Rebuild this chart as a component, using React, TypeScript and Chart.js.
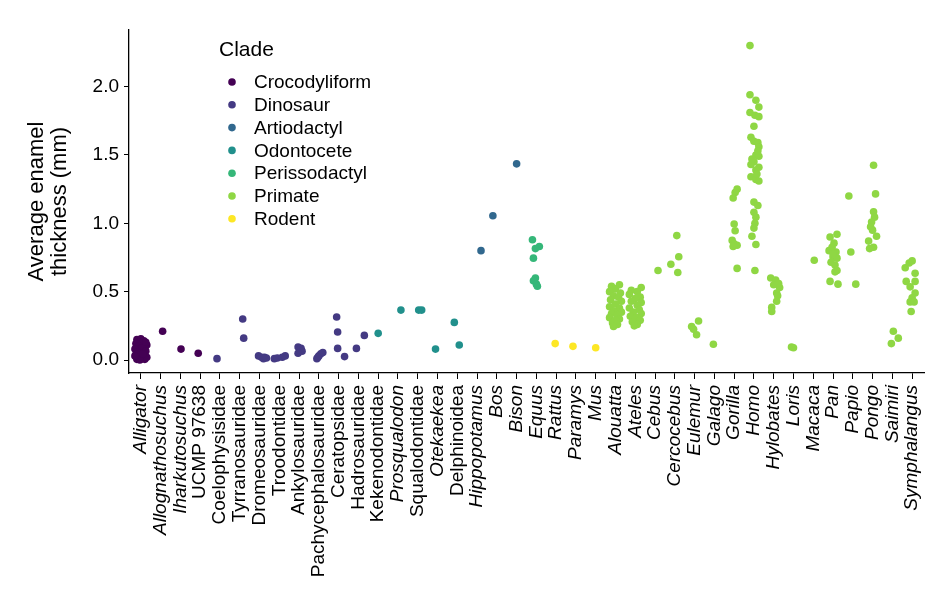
import React, { useEffect, useRef } from "react";
import { Chart, registerables } from "chart.js";

Chart.register(...registerables);

const FONT = '"Liberation Sans", Arial, Helvetica, sans-serif';

const categories = [
  "Alligator", "Allognathosuchus", "Iharkutosuchus", "UCMP 97638", "Coelophysisidae",
  "Tyrranosauridae", "Dromeosauridae", "Troodontidae", "Ankylosauridae", "Pachycephalosauridae",
  "Ceratopsidae", "Hadrosauridae", "Kekenodontidae", "Prosqualodon", "Squalodontidae",
  "Otekaekea", "Delphinoidea", "Hippopotamus", "Bos", "Bison",
  "Equus", "Rattus", "Paramys", "Mus", "Alouatta",
  "Ateles", "Cebus", "Cercocebus", "Eulemur", "Galago",
  "Gorilla", "Homo", "Hylobates", "Loris", "Macaca",
  "Pan", "Papio", "Pongo", "Saimiri", "Symphalangus",
];

const uprightTaxa = [
  "UCMP 97638", "Coelophysisidae", "Tyrranosauridae", "Dromeosauridae", "Troodontidae",
  "Ankylosauridae", "Pachycephalosauridae", "Ceratopsidae", "Hadrosauridae", "Kekenodontidae",
  "Squalodontidae", "Delphinoidea",
];

const clades = ["Crocodyliform", "Dinosaur", "Artiodactyl", "Odontocete", "Perissodactyl", "Primate", "Rodent"];
const cladeColors = ["#440154", "#443A83", "#31688E", "#21908C", "#35B779", "#8FD744", "#FDE725"];

// clade index for each taxon (same order as categories)
const taxonClade = [
  0, 0, 0, 0, 1,
  1, 1, 1, 1, 1,
  1, 1, 3, 3, 3,
  3, 3, 2, 2, 2,
  4, 6, 6, 6, 5,
  5, 5, 5, 5, 5,
  5, 5, 5, 5, 5,
  5, 5, 5, 5, 5,
];

// [jitter offset (category units), enamel thickness (mm)]
const alligator = [
  [-0.2, 0.15], [0.0, 0.155], [0.15, 0.14], [-0.25, 0.12], [0.1, 0.125], [0.3, 0.11], [-0.1, 0.1],
  [0.2, 0.09], [-0.3, 0.08], [0.05, 0.085], [-0.15, 0.06], [0.25, 0.065], [0.0, 0.05], [-0.25, 0.04],
  [0.15, 0.03], [-0.1, 0.02], [0.3, 0.02], [0.05, 0.01], [-0.2, 0.005], [0.2, 0.005], [-0.05, 0.0],
  [0.1, 0.045], [-0.3, 0.03], [0.25, 0.13],
];
const allognathosuchus = [[0.1, 0.21]];
const iharkutosuchus = [[0.03, 0.08]];
const ucmp97638 = [[-0.1, 0.05]];
const coelophysisidae = [[-0.15, 0.01]];
const tyrranosauridae = [[0.15, 0.30], [0.2, 0.16]];
const dromeosauridae = [[-0.05, 0.03], [0.1, 0.02], [0.25, 0.02], [0.35, 0.015], [0.2, 0.01]];
const troodontidae = [[-0.25, 0.01], [-0.1, 0.015], [0.15, 0.02], [0.3, 0.03]];
const ankylosauridae = [[-0.05, 0.095], [0.1, 0.085], [0.15, 0.065], [-0.05, 0.05]];
const pachycephalosauridae = [[-0.1, 0.01], [0.0, 0.03], [0.1, 0.045], [0.2, 0.055], [-0.05, 0.02]];
const ceratopsidae = [[-0.1, 0.315], [-0.05, 0.205], [-0.05, 0.085], [0.3, 0.025]];
const hadrosauridae = [[-0.1, 0.085], [0.3, 0.18]];
const kekenodontidae = [[0.0, 0.195]];
const prosqualodon = [[0.15, 0.365]];
const squalodontidae = [[0.05, 0.365], [0.2, 0.365]];
const otekaekea = [[-0.1, 0.08]];
const delphinoidea = [[-0.15, 0.275], [0.1, 0.11]];
const hippopotamus = [[0.2, 0.80]];
const bos = [[-0.2, 1.055]];
const bison = [[0.0, 1.435]];
const equus = [[-0.2, 0.88], [0.15, 0.83], [-0.05, 0.815], [-0.15, 0.745], [-0.05, 0.60], [-0.15, 0.58], [0.0, 0.555], [0.05, 0.54]];
const rattus = [[-0.05, 0.12]];
const paramys = [[-0.15, 0.10]];
const mus = [[0.0, 0.09]];
const alouatta = [
  [-0.2, 0.54], [0.2, 0.55], [0.0, 0.52], [-0.3, 0.50], [0.25, 0.49], [-0.1, 0.47], [0.15, 0.46],
  [-0.25, 0.44], [0.3, 0.43], [0.0, 0.41], [-0.3, 0.39], [0.2, 0.38], [-0.1, 0.36], [0.3, 0.35],
  [-0.2, 0.34], [0.1, 0.33], [-0.3, 0.31], [0.2, 0.30], [0.0, 0.29], [-0.15, 0.27], [0.1, 0.26], [-0.1, 0.245],
];
const ateles = [
  [0.3, 0.53], [-0.2, 0.51], [0.1, 0.50], [-0.3, 0.48], [0.25, 0.46], [0.0, 0.45], [-0.2, 0.43],
  [0.3, 0.42], [0.1, 0.40], [-0.3, 0.38], [0.2, 0.37], [-0.1, 0.35], [0.3, 0.34], [-0.25, 0.32],
  [0.05, 0.31], [0.25, 0.29], [-0.15, 0.28], [0.1, 0.26], [-0.05, 0.25],
];
const cebus = [[0.15, 0.655]];
const cercocebus = [[-0.2, 0.70], [0.1, 0.91], [0.2, 0.755], [0.15, 0.64]];
const eulemur = [[-0.15, 0.245], [0.2, 0.285], [0.1, 0.185], [-0.05, 0.225]];
const galago = [[-0.05, 0.115]];
const gorilla = [
  [0.15, 1.25], [0.05, 1.225], [-0.05, 1.185], [0.0, 0.995], [0.05, 0.945], [-0.1, 0.875],
  [0.0, 0.85], [0.15, 0.84], [-0.05, 0.83], [0.15, 0.67],
];
const homo = [
  [-0.2, 2.30], [-0.2, 1.94], [0.1, 1.90], [0.25, 1.85], [-0.2, 1.81], [0.05, 1.79], [0.25, 1.78],
  [0.0, 1.71], [-0.15, 1.63], [0.0, 1.60], [0.2, 1.59], [0.25, 1.56], [0.1, 1.50], [0.25, 1.49],
  [0.0, 1.45], [-0.15, 1.43], [0.25, 1.41], [0.1, 1.39], [-0.15, 1.34], [0.1, 1.32], [0.25, 1.31],
  [0.15, 1.36], [-0.1, 1.47], [0.2, 1.53], [0.0, 1.155], [0.2, 1.13], [0.0, 1.08], [0.1, 1.045],
  [0.05, 1.0], [0.0, 0.965], [-0.1, 0.905], [0.1, 0.845], [0.05, 0.655],
];
const hylobates = [
  [-0.15, 0.60], [0.1, 0.585], [0.25, 0.56], [0.0, 0.55], [0.3, 0.53], [0.15, 0.49],
  [0.2, 0.47], [0.15, 0.43], [-0.1, 0.385], [-0.1, 0.355],
];
const loris = [[-0.1, 0.095], [0.0, 0.09]];
const macaca = [[0.05, 0.73]];
const pan = [
  [-0.15, 0.90], [0.2, 0.92], [0.05, 0.855], [-0.2, 0.80], [0.15, 0.79], [0.0, 0.755], [0.2, 0.745],
  [-0.1, 0.715], [0.1, 0.695], [0.2, 0.655], [0.1, 0.645], [-0.15, 0.575], [0.25, 0.555], [0.0, 0.78],
  [-0.05, 0.825],
];
const papio = [[-0.2, 1.20], [-0.1, 0.79], [0.15, 0.555]];
const pongo = [
  [0.05, 1.425], [0.15, 1.215], [0.05, 1.085], [0.1, 1.045], [-0.05, 1.01], [-0.1, 0.975],
  [0.0, 0.95], [0.2, 0.905], [-0.2, 0.87], [-0.15, 0.815], [0.05, 0.825],
];
const saimiri = [[0.05, 0.21], [0.3, 0.16], [-0.05, 0.12]];
const symphalangus = [
  [-0.35, 0.675], [-0.15, 0.71], [0.0, 0.725], [0.15, 0.635], [-0.3, 0.575], [0.15, 0.575],
  [-0.1, 0.535], [0.15, 0.49], [0.0, 0.455], [-0.1, 0.425], [0.1, 0.425], [-0.05, 0.355],
];

const taxonPoints = [
  alligator, allognathosuchus, iharkutosuchus, ucmp97638, coelophysisidae,
  tyrranosauridae, dromeosauridae, troodontidae, ankylosauridae, pachycephalosauridae,
  ceratopsidae, hadrosauridae, kekenodontidae, prosqualodon, squalodontidae,
  otekaekea, delphinoidea, hippopotamus, bos, bison,
  equus, rattus, paramys, mus, alouatta,
  ateles, cebus, cercocebus, eulemur, galago,
  gorilla, homo, hylobates, loris, macaca,
  pan, papio, pongo, saimiri, symphalangus,
];

const yTicks = [0, 0.5, 1.0, 1.5, 2.0];

const legendPlugin = {
  id: "cladeLegend",
  afterDraw(chart: any) {
    const ctx = chart.ctx;
    ctx.save();
    ctx.textAlign = "left";
    ctx.textBaseline = "middle";
    ctx.fillStyle = "#000";
    ctx.font = `21px ${FONT}`;
    ctx.fillText("Clade", 219, 50);
    ctx.font = `19px ${FONT}`;
    clades.forEach((name, i) => {
      const y = 82 + i * 22.8;
      ctx.beginPath();
      ctx.arc(232, y, 3.8, 0, Math.PI * 2);
      ctx.fillStyle = cladeColors[i];
      ctx.fill();
      ctx.fillStyle = "#000";
      ctx.fillText(name, 254, y + 1);
    });
    ctx.restore();
  },
};

export default function App() {
  const canvasRef = useRef<HTMLCanvasElement | null>(null);

  useEffect(() => {
    if (!canvasRef.current) return;
    const datasets = clades.map((clade, c) => {
      const data: { x: number; y: number }[] = [];
      taxonPoints.forEach((pts, i) => {
        if (taxonClade[i] !== c) return;
        pts.forEach(([dx, v]) => data.push({ x: i + 1 + dx, y: v }));
      });
      return {
        label: clade,
        data,
        backgroundColor: cladeColors[c],
        borderWidth: 0,
        pointRadius: 3.8,
        pointHoverRadius: 3.8,
      };
    });

    const chart = new Chart(canvasRef.current, {
      type: "scatter",
      data: { datasets },
      plugins: [legendPlugin],
      options: {
        animation: false,
        responsive: true,
        maintainAspectRatio: false,
        layout: { padding: { top: 30, right: 25, left: 0, bottom: 0 } },
        plugins: { legend: { display: false }, tooltip: { enabled: false } },
        scales: {
          x: {
            type: "linear",
            min: 0.4,
            max: 40.6,
            afterBuildTicks: (scale: any) => {
              scale.ticks = categories.map((_, i) => ({ value: i + 1 }));
            },
            afterFit: (scale: any) => {
              scale.height = 227;
            },
            grid: { drawOnChartArea: false, drawTicks: true, tickLength: 6, color: "#000", lineWidth: 1 },
            border: { display: true, color: "#000", width: 1.3 },
            ticks: {
              autoSkip: false,
              minRotation: 90,
              maxRotation: 90,
              padding: 6,
              color: "#000",
              callback: (value: any) => categories[Math.round(value) - 1] ?? "",
              font: (ctx: any) => {
                const idx = ctx.index ?? 0;
                const name = categories[idx];
                return {
                  family: FONT,
                  size: 19,
                  style: uprightTaxa.includes(name) ? "normal" : "italic",
                };
              },
            },
          },
          y: {
            type: "linear",
            min: -0.095,
            max: 2.414,
            afterBuildTicks: (scale: any) => {
              scale.ticks = yTicks.map((v) => ({ value: v }));
            },
            afterFit: (scale: any) => {
              scale.width = 129;
            },
            grid: { drawOnChartArea: false, drawTicks: true, tickLength: 5, color: "#000", lineWidth: 1 },
            border: { display: true, color: "#000", width: 1.3 },
            ticks: {
              padding: 5,
              color: "#000",
              font: { family: FONT, size: 19 },
              callback: (value: any) => Number(value).toFixed(1),
            },
            title: {
              display: true,
              text: ["Average enamel", "thickness (mm)"],
              color: "#000",
              font: { family: FONT, size: 22, lineHeight: 1.07 },
              padding: { top: 25, bottom: 0 },
            },
          },
        },
      },
    } as any);
    return () => chart.destroy();
  }, []);

  return (
    <div style={{ position: "fixed", left: 0, top: 0, width: 949, height: 600, background: "#fff" }}>
      <canvas ref={canvasRef} />
    </div>
  );
}
